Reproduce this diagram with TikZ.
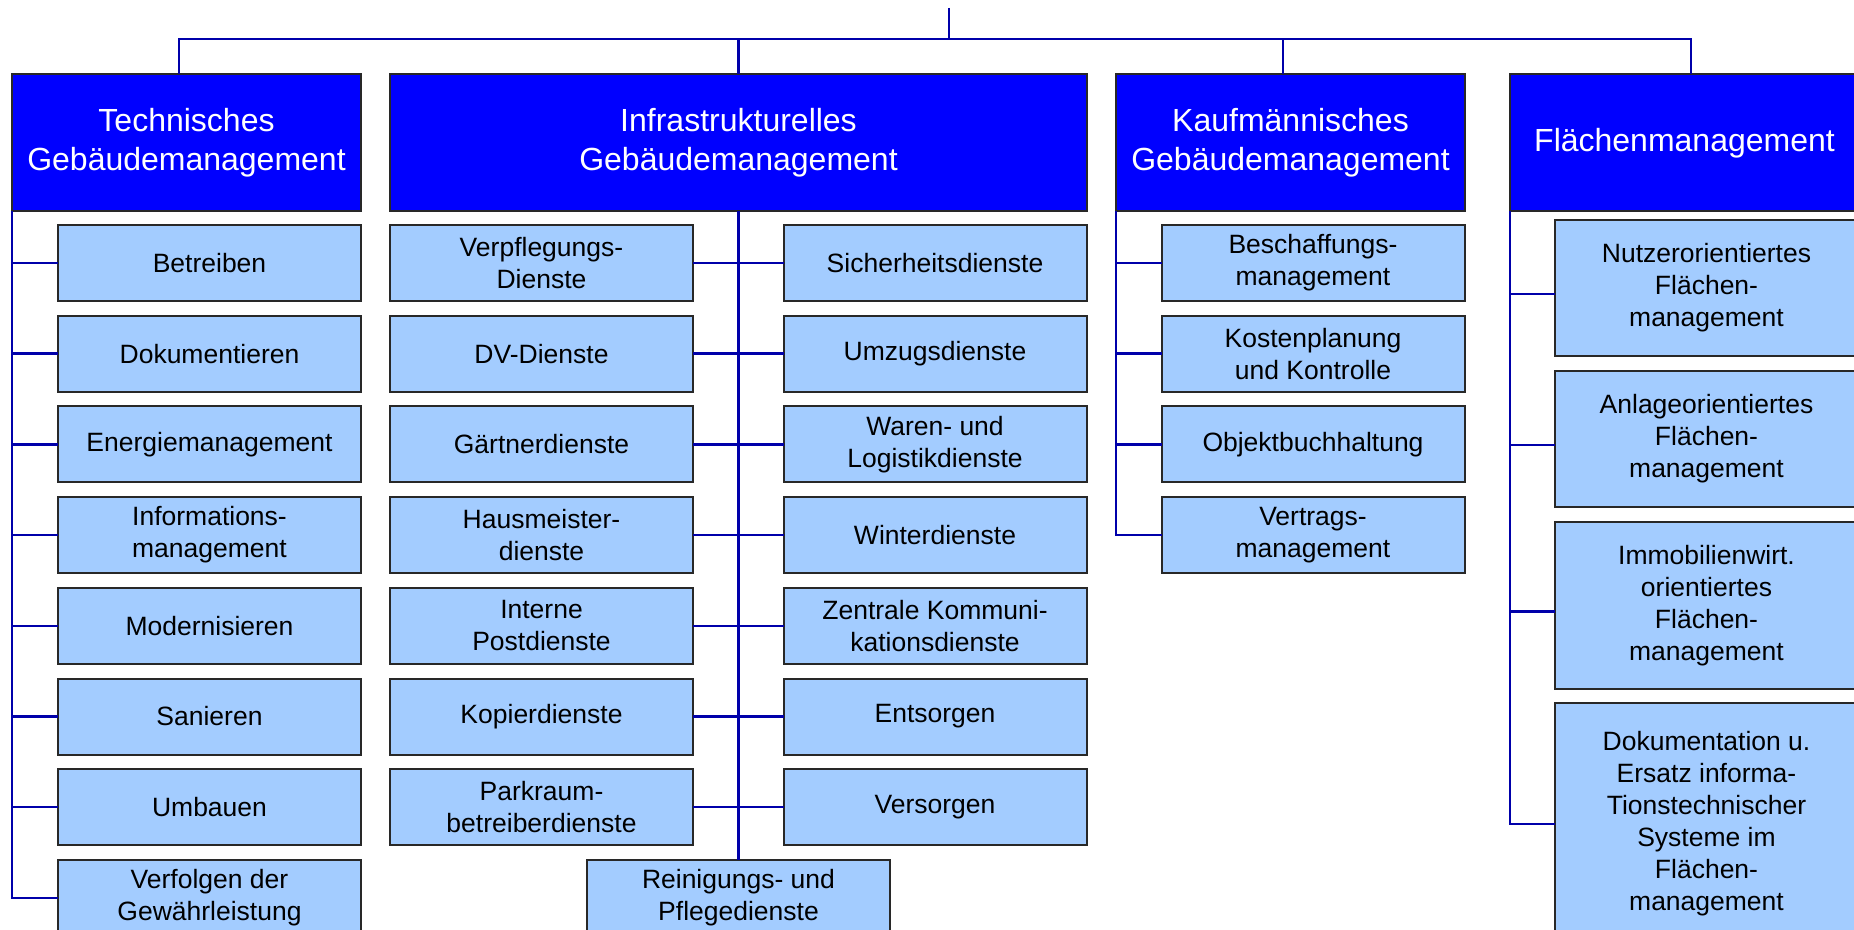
\documentclass[tikz,border=0pt]{standalone}
\usepackage{fontspec}
\setmainfont{Liberation Sans}
\usetikzlibrary{positioning}
\definecolor{fmblue}{RGB}{0,0,255}
\definecolor{fmlight}{RGB}{163,204,255}
\definecolor{fmline}{RGB}{0,0,170}
\definecolor{fmedge}{RGB}{40,40,40}

\begin{document}
\begin{tikzpicture}[x=0.5pt, y=-0.5pt,
  head/.style={draw=fmedge, line width=1pt, fill=fmblue, text=white, align=center,
    font=\fontsize{16}{19.5}\selectfont, minimum width=174.5pt, minimum height=68.5pt,
    inner sep=0pt, outer sep=0pt},
  sub/.style={draw=fmedge, line width=1pt, fill=fmlight, align=center,
    font=\fontsize{13.25}{16}\selectfont, minimum width=151.5pt, minimum height=38pt,
    inner sep=0pt, outer sep=0pt},
  conn/.style={draw=fmline, line width=1.2pt}]
\useasboundingbox (0,0) rectangle (1854,930);

% top level
\node[head] (hT) at (186.5,143) {Technisches\\Gebäudemanagement};
\node[head, minimum width=348.5pt] (hI) at (738.5,143) {Infrastrukturelles\\Gebäudemanagement};
\node[head] (hK) at (1290.5,143) {Kaufmännisches\\Gebäudemanagement};
\node[head] (hF) at (1684.5,143) {Flächenmanagement};

\coordinate (top) at (949,8);
\coordinate (bar) at (949,39);
\draw[conn] (top) -- (bar);
\draw[conn] ([xshift=-3.75pt]hT.north) |- (bar) -| ([xshift=3.25pt]hF.north);
\draw[conn] (hI.north) -- ++(0,-35);
\draw[conn] ([xshift=-3.75pt]hK.north) -- ++(0,-35);

% technisches
\foreach \i/\txt in {1/Betreiben, 2/Dokumentieren, 3/Energiemanagement,
    4/{Informations-\\management}, 5/Modernisieren, 6/Sanieren, 7/Umbauen,
    8/{Verfolgen der\\Gewährleistung}}
  \node[sub] (t\i) at (209.5,{263+90.7*(\i-1)}) {\txt};
\draw[conn] (hT.south west) |- (t8.west);
\foreach \i in {1,...,7}
  \draw[conn] (t\i.west -| hT.south west) -- (t\i.west);

% infrastrukturelles
\foreach \i/\txt in {1/{Verpflegungs-\\Dienste}, 2/DV-Dienste, 3/Gärtnerdienste,
    4/{Hausmeister-\\dienste}, 5/{Interne\\Postdienste}, 6/Kopierdienste,
    7/{Parkraum-\\betreiberdienste}}
  \node[sub] (il\i) at (541.5,{263+90.7*(\i-1)}) {\txt};
\foreach \i/\txt in {1/Sicherheitsdienste, 2/Umzugsdienste, 3/{Waren- und\\Logistikdienste},
    4/Winterdienste, 5/{Zentrale Kommuni-\\kationsdienste}, 6/Entsorgen, 7/Versorgen}
  \node[sub] (ir\i) at (935,{263+90.7*(\i-1)}) {\txt};
\node[sub] (rein) at (738.5,{263+90.7*7}) {Reinigungs- und\\Pflegedienste};
\draw[conn] (hI.south) -- (rein.north);
\foreach \i in {1,...,7}
  \draw[conn] (il\i.east) -- (ir\i.west);

% kaufmaennisches
\foreach \i/\txt in {1/{Beschaffungs-\\management}, 2/{Kostenplanung\\und Kontrolle},
    3/Objektbuchhaltung, 4/{Vertrags-\\management}}
  \node[sub] (k\i) at (1313,{263+90.7*(\i-1)}) {\txt};
\draw[conn] (hK.south west) |- (k4.west);
\foreach \i in {1,2,3}
  \draw[conn] (k\i.west -| hK.south west) -- (k\i.west);

% flaechen
\node[sub, minimum height=68pt] (f1) at (1706.5,288) {Nutzerorientiertes\\Flächen-\\management};
\node[sub, minimum height=68pt] (f2) at (1706.5,439) {Anlageorientiertes\\Flächen-\\management};
\node[sub, minimum height=83.5pt] (f3) at (1706.5,605.5) {Immobilienwirt.\\orientiertes\\Flächen-\\management};
\node[sub, minimum height=121pt] (f4) at (1706.5,824) {Dokumentation u.\\Ersatz informa-\\Tionstechnischer\\Systeme im\\Flächen-\\management};
\draw[conn] (hF.south west) |- (f4.west);
\foreach \i in {1,2,3}
  \draw[conn] ([yshift=-3pt]f\i.west -| hF.south west) -- ([yshift=-3pt]f\i.west);
\end{tikzpicture}
\end{document}
